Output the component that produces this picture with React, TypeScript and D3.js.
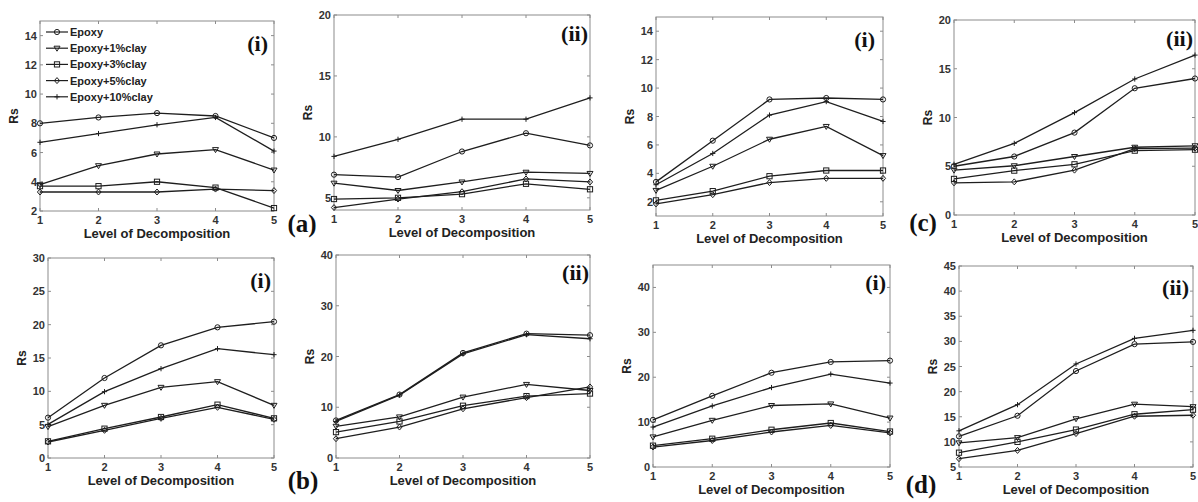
import React from 'react';
import * as d3 from 'd3';

// x levels and series
const levels = [1, 2, 3, 4, 5];
const seriesNames = ['Epoxy', 'Epoxy+1%clay', 'Epoxy+3%clay', 'Epoxy+5%clay', 'Epoxy+10%clay'];
const markerKinds = ['circle', 'triangle', 'square', 'diamond', 'plus'];

// Rs values per panel, rows in seriesNames order
const a1Values = [
  [8.0, 8.4, 8.7, 8.5, 7.0],
  [3.8, 5.1, 5.9, 6.2, 4.8],
  [3.7, 3.7, 4.0, 3.6, 2.2],
  [3.3, 3.3, 3.3, 3.5, 3.4],
  [6.7, 7.3, 7.9, 8.4, 6.1],
];
const a2Values = [
  [6.9, 6.7, 8.8, 10.3, 9.3],
  [6.2, 5.6, 6.3, 7.1, 7.0],
  [4.9, 5.0, 5.3, 6.15, 5.7],
  [4.2, 4.9, 5.5, 6.55, 6.3],
  [8.4, 9.8, 11.45, 11.45, 13.2],
];
const c1Values = [
  [3.4, 6.3, 9.2, 9.3, 9.2],
  [2.8, 4.5, 6.4, 7.3, 5.25],
  [2.1, 2.75, 3.8, 4.2, 4.2],
  [1.85, 2.5, 3.35, 3.65, 3.65],
  [3.2, 5.4, 8.1, 9.05, 7.65],
];
const c2Values = [
  [5.0, 6.0, 8.45, 13.0, 14.0],
  [4.6, 5.05, 6.0, 6.95, 7.1],
  [3.7, 4.55, 5.2, 6.6, 6.7],
  [3.3, 3.4, 4.6, 6.8, 6.85],
  [5.2, 7.35, 10.5, 13.95, 16.4],
];
const b1Values = [
  [6.05, 12.0, 16.9, 19.6, 20.45],
  [4.7, 7.9, 10.6, 11.45, 7.9],
  [2.5, 4.4, 6.15, 8.0, 5.95],
  [2.4, 4.15, 5.95, 7.6, 5.8],
  [5.05, 9.95, 13.4, 16.4, 15.5],
];
const b2Values = [
  [7.4, 12.5, 20.7, 24.5, 24.2],
  [6.25, 8.1, 12.0, 14.5, 13.3],
  [5.1, 7.2, 10.3, 12.2, 12.7],
  [3.8, 6.1, 9.7, 11.9, 14.0],
  [7.2, 12.4, 20.5, 24.3, 23.5],
];
const d1Values = [
  [10.5, 15.85, 21.0, 23.4, 23.7],
  [6.7, 10.4, 13.7, 14.05, 10.9],
  [4.75, 6.3, 8.3, 9.8, 7.9],
  [4.45, 5.9, 7.8, 9.25, 7.6],
  [8.9, 13.6, 17.7, 20.7, 18.7],
];
const d2Values = [
  [11.1, 15.2, 24.1, 29.45, 29.9],
  [9.8, 10.85, 14.6, 17.5, 17.0],
  [7.85, 10.0, 12.45, 15.5, 16.4],
  [6.65, 8.3, 11.65, 15.1, 15.3],
  [12.2, 17.4, 25.5, 30.6, 32.2],
];

// y ranges and tick labels
const a1Domain = [2, 15];
const a1Ticks = [2, 4, 6, 8, 10, 12, 14];
const a2Domain = [4, 20];
const a2Ticks = [5, 10, 15, 20];
const c1Domain = [1, 15];
const c1Ticks = [2, 4, 6, 8, 10, 12, 14];
const c2Domain = [0, 20];
const c2Ticks = [0, 5, 10, 15, 20];
const b1Domain = [0, 30];
const b1Ticks = [0, 5, 10, 15, 20, 25, 30];
const b2Domain = [0, 40];
const b2Ticks = [0, 10, 20, 30, 40];
const d1Domain = [0, 45];
const d1Ticks = [0, 10, 20, 30, 40];
const d2Domain = [5, 45];
const d2Ticks = [5, 10, 15, 20, 25, 30, 35, 40, 45];

type PanelDef = {
  values: number[][];
  domain: number[];
  ticks: number[];
  L: number; R: number; T: number; B: number;
  tag: string; tagX: number; tagY: number;
  legend?: boolean;
};

const panels: PanelDef[] = [
  { values: a1Values, domain: a1Domain, ticks: a1Ticks, L: 40, R: 274, T: 21, B: 211, tag: '(i)', tagX: 268, tagY: 51, legend: true },
  { values: a2Values, domain: a2Domain, ticks: a2Ticks, L: 334, R: 590, T: 15, B: 210, tag: '(ii)', tagX: 588, tagY: 41 },
  { values: c1Values, domain: c1Domain, ticks: c1Ticks, L: 656, R: 883, T: 17, B: 216, tag: '(i)', tagX: 875, tagY: 47 },
  { values: c2Values, domain: c2Domain, ticks: c2Ticks, L: 954, R: 1195, T: 20, B: 215, tag: '(ii)', tagX: 1193, tagY: 46 },
  { values: b1Values, domain: b1Domain, ticks: b1Ticks, L: 48, R: 274, T: 258, B: 458, tag: '(i)', tagX: 271, tagY: 288 },
  { values: b2Values, domain: b2Domain, ticks: b2Ticks, L: 336, R: 590, T: 255, B: 458, tag: '(ii)', tagX: 589, tagY: 280 },
  { values: d1Values, domain: d1Domain, ticks: d1Ticks, L: 653, R: 890, T: 265, B: 467, tag: '(i)', tagX: 886, tagY: 290 },
  { values: d2Values, domain: d2Domain, ticks: d2Ticks, L: 959, R: 1193, T: 266, B: 467, tag: '(ii)', tagX: 1189, tagY: 295 },
];

const figureTags = [
  { text: '(a)', x: 302, y: 232 },
  { text: '(b)', x: 303, y: 489 },
  { text: '(c)', x: 923, y: 231 },
  { text: '(d)', x: 921, y: 493 },
];

const ink = '#1e1e1e';
const frame = '#8c8c8c';
const sans = 'Liberation Sans, Arial, sans-serif';
const serif = 'Liberation Serif, Times New Roman, serif';

const Marker: React.FC<{ kind: string; x: number; y: number }> = ({ kind, x, y }) => {
  const s = 2.6;
  const common = { fill: 'none', stroke: ink, strokeWidth: 1 };
  if (kind === 'circle') return <circle cx={x} cy={y} r={s} {...common} />;
  if (kind === 'square') return <rect x={x - s} y={y - s} width={2 * s} height={2 * s} {...common} />;
  if (kind === 'triangle')
    return <path d={`M${x - s - 0.4},${y - s + 0.6}L${x + s + 0.4},${y - s + 0.6}L${x},${y + s + 0.4}Z`} {...common} />;
  if (kind === 'diamond')
    return <path d={`M${x},${y - s - 0.4}L${x + s},${y}L${x},${y + s + 0.4}L${x - s},${y}Z`} {...common} />;
  return <path d={`M${x - s},${y}H${x + s}M${x},${y - s}V${y + s}`} {...common} />;
};

const Panel: React.FC<{ p: PanelDef }> = ({ p }) => {
  const x = d3.scaleLinear().domain([1, 5]).range([p.L, p.R]);
  const y = d3.scaleLinear().domain(p.domain).range([p.B, p.T]);
  const line = d3.line<number>().x((_, i) => x(levels[i])).y(d => y(d));
  const tk = 3;
  return (
    <g>
      <rect x={p.L} y={p.T} width={p.R - p.L} height={p.B - p.T} fill="white" stroke={frame} strokeWidth={1} />
      {levels.map(l => (
        <g key={'xt' + l}>
          <line x1={x(l)} x2={x(l)} y1={p.B} y2={p.B - tk} stroke={frame} />
          <line x1={x(l)} x2={x(l)} y1={p.T} y2={p.T + tk} stroke={frame} />
          <text x={x(l)} y={p.B + 13} textAnchor="middle" fontFamily={sans} fontWeight="bold" fontSize={11} fill="#333">{l}</text>
        </g>
      ))}
      {p.ticks.map(t => (
        <g key={'yt' + t}>
          <line x1={p.L} x2={p.L + tk} y1={y(t)} y2={y(t)} stroke={frame} />
          <line x1={p.R} x2={p.R - tk} y1={y(t)} y2={y(t)} stroke={frame} />
          <text x={p.L - 3} y={y(t) + 4} textAnchor="end" fontFamily={sans} fontWeight="bold" fontSize={11} fill="#333">{t}</text>
        </g>
      ))}
      {p.values.map((vals, si) => (
        <g key={'s' + si}>
          <path d={line(vals) || ''} fill="none" stroke={ink} strokeWidth={1.3} />
          {vals.map((v, i) => <Marker key={i} kind={markerKinds[si]} x={x(levels[i])} y={y(v)} />)}
        </g>
      ))}
      <text x={p.tagX} y={p.tagY} textAnchor="end" fontFamily={serif} fontWeight="bold" fontSize={22} fill="#111">{p.tag}</text>
      <text x={(p.L + p.R) / 2} y={p.B + 27} textAnchor="middle" fontFamily={sans} fontWeight="bold" fontSize={13} fill="#222">Level of Decomposition</text>
      <text transform={`translate(${p.L - 22},${(p.T + p.B) / 2}) rotate(-90)`} textAnchor="middle" fontFamily={sans} fontWeight="bold" fontSize={12} fill="#222">Rs</text>
      {p.legend && seriesNames.map((name, i) => {
        const ly = p.T + 11 + i * 16.2;
        return (
          <g key={name}>
            <line x1={p.L + 6} x2={p.L + 28} y1={ly} y2={ly} stroke={ink} strokeWidth={1.2} />
            <Marker kind={markerKinds[i]} x={p.L + 17} y={ly} />
            <text x={p.L + 30} y={ly + 4} fontFamily={sans} fontWeight="bold" fontSize={11} fill="#222">{name}</text>
          </g>
        );
      })}
    </g>
  );
};

export default function App() {
  return (
    <svg width={1198} height={502} style={{ position: 'absolute', left: 0, top: 0, background: 'white' }}>
      <rect width={1198} height={502} fill="white" />
      {panels.map((p, i) => <Panel key={i} p={p} />)}
      {figureTags.map(t => (
        <text key={t.text} x={t.x} y={t.y} textAnchor="middle" fontFamily={serif} fontWeight="bold" fontSize={25} fill="#111">{t.text}</text>
      ))}
    </svg>
  );
}
